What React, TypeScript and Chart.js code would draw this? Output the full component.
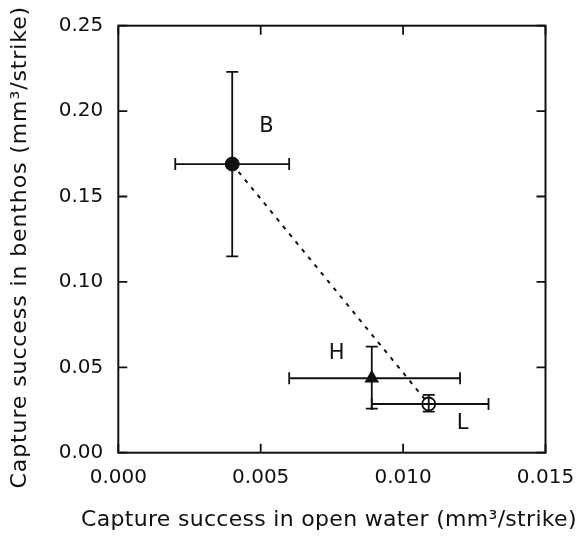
import React, { useEffect, useRef } from "react";
import { Chart, registerables } from "chart.js";

Chart.register(...registerables);

// ---- data ----
const pointNames = ["B", "H", "L"];
const xValues = [0.004, 0.0089, 0.0109];
const yValues = [0.169, 0.0436, 0.0285];
const xErrLow = [0.002, 0.006, 0.0089];
const xErrHigh = [0.006, 0.012, 0.013];
const yErrLow = [0.115, 0.0258, 0.024];
const yErrHigh = [0.223, 0.0621, 0.0338];
const labelX = [0.0052, 0.00767, 0.01209];
const labelY = [0.191, 0.0578, 0.0172];
const xTicks = [0, 0.005, 0.01, 0.015];
const yTicks = [0, 0.05, 0.1, 0.15, 0.2, 0.25];
const xTitle = "Capture success in open water (mm³/strike)";
const yTitle = "Capture success in benthos (mm³/strike)";

const INK = "#111";
const FONT = "'DejaVu Sans', sans-serif";

const framePlugin = {
  id: "frameAndErrors",
  afterDatasetsDraw(chart: any) {
    const { ctx, chartArea } = chart;
    const xs = chart.scales.x;
    const ys = chart.scales.y;
    ctx.save();
    // error bars
    ctx.strokeStyle = INK;
    ctx.lineWidth = 1.8;
    for (let i = 0; i < xValues.length; i++) {
      const px = xs.getPixelForValue(xValues[i]);
      const py = ys.getPixelForValue(yValues[i]);
      const x0 = xs.getPixelForValue(xErrLow[i]);
      const x1 = xs.getPixelForValue(xErrHigh[i]);
      const y0 = ys.getPixelForValue(yErrLow[i]);
      const y1 = ys.getPixelForValue(yErrHigh[i]);
      const c = 6;
      ctx.beginPath();
      ctx.moveTo(x0, py); ctx.lineTo(x1, py);
      ctx.moveTo(x0, py - c); ctx.lineTo(x0, py + c);
      ctx.moveTo(x1, py - c); ctx.lineTo(x1, py + c);
      ctx.moveTo(px, y0); ctx.lineTo(px, y1);
      ctx.moveTo(px - c, y0); ctx.lineTo(px + c, y0);
      ctx.moveTo(px - c, y1); ctx.lineTo(px + c, y1);
      ctx.stroke();
    }
    // frame
    const { left, right, top, bottom } = chartArea;
    ctx.lineWidth = 2;
    ctx.strokeRect(left, top, right - left, bottom - top);
    // inward ticks on all sides
    const tl = 9;
    ctx.lineWidth = 1.8;
    ctx.beginPath();
    xTicks.forEach((v) => {
      const p = xs.getPixelForValue(v);
      ctx.moveTo(p, bottom); ctx.lineTo(p, bottom - tl);
      ctx.moveTo(p, top); ctx.lineTo(p, top + tl);
    });
    yTicks.forEach((v) => {
      const p = ys.getPixelForValue(v);
      ctx.moveTo(left, p); ctx.lineTo(left + tl, p);
      ctx.moveTo(right, p); ctx.lineTo(right - tl, p);
    });
    ctx.stroke();
    // point labels
    ctx.fillStyle = INK;
    ctx.font = `21px ${FONT}`;
    ctx.textAlign = "center";
    ctx.textBaseline = "middle";
    for (let i = 0; i < pointNames.length; i++) {
      ctx.fillText(pointNames[i], xs.getPixelForValue(labelX[i]), ys.getPixelForValue(labelY[i]));
    }
    // axis titles
    ctx.font = `22px ${FONT}`;
    (ctx as any).letterSpacing = "0.3px";
    ctx.fillText(xTitle, (left + right) / 2 - 3, 520);
    (ctx as any).letterSpacing = "0.9px";
    ctx.translate(20, (top + bottom) / 2 + 8);
    ctx.rotate(-Math.PI / 2);
    ctx.fillText(yTitle, 0, 0);
    ctx.restore();
  },
};

export default function App() {
  const ref = useRef<HTMLCanvasElement | null>(null);
  useEffect(() => {
    if (!ref.current) return;
    const pts = xValues.map((x, i) => ({ x, y: yValues[i] }));
    const chart = new Chart(ref.current, {
      type: "scatter",
      data: {
        datasets: [
          {
            type: "line",
            data: [pts[0], pts[2]],
            borderColor: INK,
            borderWidth: 2,
            borderDash: [4, 6],
            pointRadius: 0,
            fill: false,
            order: 3,
          } as any,
          {
            data: [pts[0]],
            pointStyle: "circle",
            pointRadius: 7,
            backgroundColor: INK,
            borderColor: INK,
            borderWidth: 1,
            order: 1,
          },
          {
            data: [pts[1]],
            pointStyle: "triangle",
            pointRadius: 7,
            backgroundColor: INK,
            borderColor: INK,
            borderWidth: 1.5,
            order: 1,
          },
          {
            data: [pts[2]],
            pointStyle: "circle",
            pointRadius: 6.5,
            backgroundColor: "#fff",
            borderColor: INK,
            borderWidth: 1.8,
            order: 1,
          },
        ],
      },
      options: {
        animation: false,
        responsive: true,
        maintainAspectRatio: false,
        layout: { padding: { left: 0, right: 34.5, top: 25.7, bottom: 0 } },
        plugins: { legend: { display: false }, tooltip: { enabled: false } },
        scales: {
          x: {
            type: "linear",
            min: 0,
            max: 0.015,
            afterFit: (s: any) => { s.height = 84.3; s.paddingLeft = 0; s.paddingRight = 0; },
            afterBuildTicks: (s: any) => { s.ticks = xTicks.map((v) => ({ value: v })); },
            grid: { display: false, drawTicks: false },
            border: { display: false },
            ticks: {
              color: INK,
              padding: 13,
              font: { family: FONT, size: 20 },
              callback: (v: any) => Number(v).toFixed(3),
            },
          },
          y: {
            type: "linear",
            min: 0,
            max: 0.25,
            afterFit: (s: any) => { s.width = 118.3; s.paddingTop = 0; s.paddingBottom = 0; },
            afterBuildTicks: (s: any) => { s.ticks = yTicks.map((v) => ({ value: v })); },
            grid: { display: false, drawTicks: false },
            border: { display: false },
            ticks: {
              color: INK,
              padding: 15,
              font: { family: FONT, size: 20 },
              callback: (v: any) => Number(v).toFixed(2),
            },
          },
        },
      },
      plugins: [framePlugin],
    });
    return () => chart.destroy();
  }, []);
  return (
    <div style={{ position: "absolute", left: 0, top: 0, width: 580, height: 537, background: "#fff" }}>
      <canvas ref={ref} />
    </div>
  );
}
